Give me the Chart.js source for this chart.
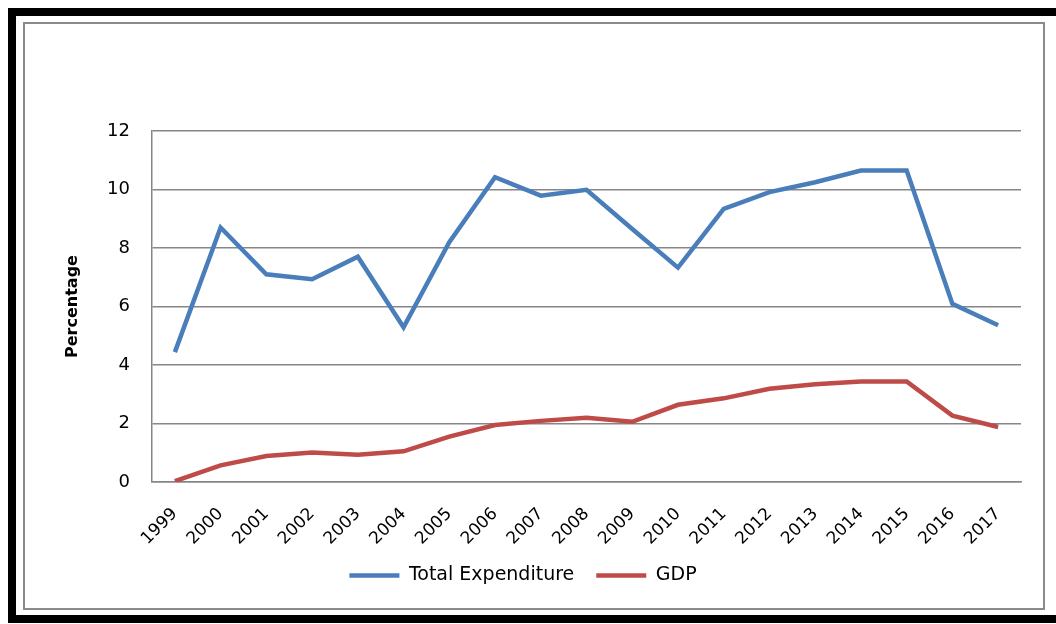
<!DOCTYPE html>
<html>
<head>
<meta charset="utf-8">
<script src="https://cdn.jsdelivr.net/npm/chart.js@4/dist/chart.umd.min.js"></script>
<style>
  body { margin: 0; background: #fff; }
  #frame {
    position: absolute; left: 8px; top: 8px;
    width: 1100px; height: 599px;
    border: 8px solid #000;
    background: #fff;
  }
  #box {
    position: absolute; left: 23px; top: 22px;
    width: 1018px; height: 584px;
    border: 2px solid #8a8a8a;
    background: #fff;
  }
</style>
</head>
<body>
<div id="frame"></div>
<div id="box"><canvas id="lineChart"></canvas></div>
<script>
// years on the x axis
const years = ['1999', '2000', '2001', '2002', '2003', '2004', '2005', '2006', '2007', '2008',
               '2009', '2010', '2011', '2012', '2013', '2014', '2015', '2016', '2017'];

// total expenditure, percent
const totalExpenditure = [4.44, 8.70, 7.10, 6.93, 7.70, 5.29, 8.20, 10.42, 9.79, 9.99,
                          8.65, 7.33, 9.34, 9.91, 10.25, 10.65, 10.65, 6.09, 5.36];

// GDP, percent
const gdp = [0.03, 0.57, 0.89, 1.01, 0.93, 1.05, 1.55, 1.95, 2.09, 2.20,
             2.06, 2.64, 2.86, 3.19, 3.34, 3.44, 3.44, 2.27, 1.88];

const fontFamily = '"DejaVu Sans", sans-serif';
const gridColor = '#868686';

const ctx = document.getElementById('lineChart').getContext('2d');

new Chart(ctx, {
  type: 'line',
  data: {
    labels: years,
    datasets: [{
      label: 'Total Expenditure',
      data: totalExpenditure,
      borderColor: '#4a7ebb',
      backgroundColor: '#4a7ebb',
      borderWidth: 4.5,
      pointRadius: 0,
      tension: 0,
      fill: false
    }, {
      label: 'GDP',
      data: gdp,
      borderColor: '#be4b48',
      backgroundColor: '#be4b48',
      borderWidth: 4.5,
      pointRadius: 0,
      tension: 0,
      fill: false
    }]
  },
  options: {
    responsive: true,
    maintainAspectRatio: false,
    animation: false,
    layout: {
      padding: { left: 0, right: 22, top: 107, bottom: 13 }
    },
    plugins: {
      legend: {
        position: 'bottom',
        labels: {
          boxWidth: 50,
          boxHeight: 0,
          padding: 22,
          color: '#000',
          font: { family: fontFamily, size: 19 },
          generateLabels: function (chart) {
            return chart.data.datasets.map((ds, i) => ({
              text: ds.label,
              strokeStyle: ds.borderColor,
              fillStyle: ds.borderColor,
              lineWidth: 4.5,
              datasetIndex: i,
              hidden: false
            }));
          }
        }
      },
      tooltip: { enabled: false }
    },
    scales: {
      x: {
        offset: true,
        grid: { display: false, drawTicks: false },
        border: { display: true, color: gridColor, width: 1.5 },
        ticks: {
          color: '#000',
          font: { family: fontFamily, size: 17 },
          minRotation: 45,
          maxRotation: 45,
          padding: 22,
          autoSkip: false
        },
        afterFit: function (scale) {
          scale.height = 62;
          // rotated labels should not shrink the plot width
          scale.paddingLeft = 0;
          scale.paddingRight = 0;
          // labels may reach a little below the axis box
          scale._computeLabelArea = function () { return undefined; };
        }
      },
      y: {
        min: 0,
        max: 12,
        grid: { color: gridColor, lineWidth: 1.5, drawTicks: false },
        border: { display: true, color: gridColor, width: 1.5 },
        ticks: {
          stepSize: 2,
          color: '#000',
          padding: 22,
          font: { family: fontFamily, size: 18 }
        },
        title: {
          display: true,
          text: 'Percentage',
          color: '#000',
          padding: { top: 38, bottom: 0 },
          font: { family: fontFamily, size: 16, weight: 'bold' }
        },
        afterFit: function (scale) { scale.width = 127; }
      }
    }
  }
});
</script>
</body>
</html>
